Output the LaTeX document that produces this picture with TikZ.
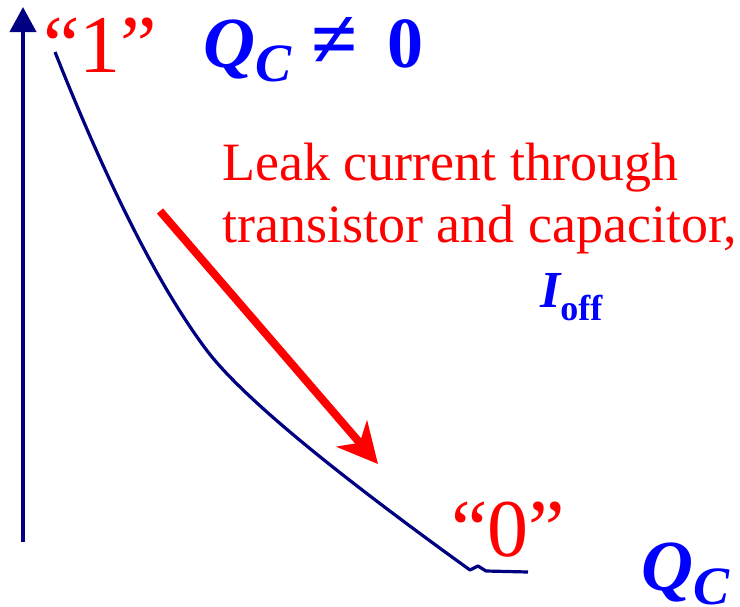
\documentclass[tikz,border=0pt]{standalone}
\usepackage{amsmath}
\usepackage{fontspec}
\setmainfont{Liberation Serif}
\usetikzlibrary{arrows.meta,positioning}
\definecolor{navyline}{HTML}{000080}
\definecolor{leakred}{HTML}{FF0000}
\definecolor{chargeblue}{HTML}{0000FF}
\newcommand{\chargeQC}{{\fontsize{72}{72}\selectfont\bfseries\itshape Q}\raisebox{-14pt}{\fontsize{54}{54}\selectfont\bfseries\itshape C}}
\tikzset{axis/.style={-{Triangle[length=25pt,width=26pt]}, line width=4pt, color=navyline}, curve/.style={line width=3.2pt, color=navyline, line join=round}, leak/.style={-{Stealth[length=40pt,width=40pt,inset=12pt]}, line width=8pt, color=leakred}, state/.style={font=\fontsize{82}{82}\selectfont, text=leakred, inner sep=0pt}, lab/.style={font=\fontsize{54}{62}\selectfont, text=leakred, inner sep=0pt, align=left}, charge/.style={font=\fontsize{72}{72}\selectfont\bfseries, text=chargeblue, inner sep=0pt}}

\begin{document}
\begin{tikzpicture}[x=1pt,y=-1pt]
\useasboundingbox (0,0) rectangle (740,606);
\coordinate (origin) at (23,542); \coordinate (ytop) at (23,7);
\draw[axis] (origin) -- (ytop);
% discharge curve
\coordinate (high) at (55,52); \coordinate (knee) at (205,348); \coordinate (low) at (470,570);
\draw[curve] (high) .. controls (109,188) and (159,286) .. (knee) .. controls (238,393) and (327,467) .. (low) -- (478,566) -- (486,571) -- (528,572);
\coordinate (leakstart) at (160,211); \coordinate (leakend) at (378,464);
\draw[leak] (leakstart) -- (leakend);
\node[state, anchor=base west] (one) at (43,72) {“1”};
\node[charge, anchor=base west] (qtop) at (203,67) {\chargeQC\hspace{20pt}{\fontsize{84}{84}\selectfont ≠}\hspace{30pt}0};
\node[lab, anchor=north west] (leaktext) at (222,143) {Leak current through\\transistor and capacitor,};
\node[anchor=base west, text=chargeblue, inner sep=0pt] (ioff) at (540,307) {{\fontsize{52}{52}\selectfont\bfseries\itshape I}{\fontsize{36}{36}\selectfont\bfseries\raisebox{-13pt}{off}}};
\node[state, anchor=base west] (zero) at (451,556) {“0”};
\node[charge, anchor=base west] (qaxis) at (641,590) {\chargeQC};
\end{tikzpicture}
\end{document}
